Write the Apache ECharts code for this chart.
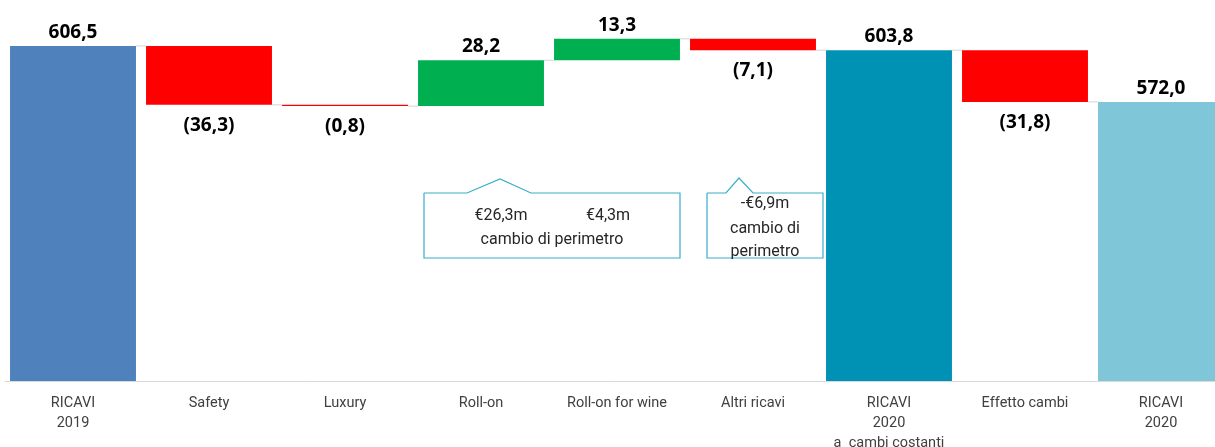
<!DOCTYPE html>
<html><head><meta charset="utf-8">
<script src="https://cdn.jsdelivr.net/npm/echarts@6/dist/echarts.min.js"></script>
<style>html,body{margin:0;padding:0;background:#fff}#c{width:1215px;height:447px}</style>
</head><body><div id="c"></div>
<script>
const categories = ['RICAVI\n2019','Safety','Luxury','Roll-on','Roll-on for wine','Altri ricavi','RICAVI\n2020\na  cambi costanti','Effetto cambi','RICAVI\n2020'];
const values = [606.5, -36.3, -0.8, 28.2, 13.3, -7.1, 603.8, -31.8, 572.0];
const isTotal = [true, false, false, false, false, false, true, false, true];
const colors = ['#4F81BD','#FF0000','#FF0000','#00B050','#00B050','#FF0000','#0092B5','#FF0000','#7FC6D8'];

const base = [], height = [], level = [];
let run = 0;
values.forEach((v, i) => {
  if (isTotal[i]) { base.push(0); height.push(v); run = v; }
  else { const end = run + v; base.push(Math.min(run, end)); height.push(Math.abs(v)); run = end; }
  level.push(run);
});
const fmt = v => { const s = Math.abs(v).toFixed(1).replace('.', ','); return v < 0 ? '(' + s + ')' : s; };

const chart = echarts.init(document.getElementById('c'));
chart.setOption({
  animation: false,
  grid: { left: 5, width: 1224, top: 24, bottom: 66, containLabel: false, outerBoundsMode: 'none' },
  xAxis: {
    type: 'category', data: categories,
    axisTick: { show: false },
    axisLine: { lineStyle: { color: '#d9d9d9', width: 1 } },
    axisLabel: { color: '#404040', fontFamily: 'Roboto', fontSize: 14.5, lineHeight: 20, margin: 12, interval: 0 }
  },
  yAxis: { type: 'value', min: 400, max: 620, show: false, splitLine: { show: false } },
  series: [
    { type: 'bar', stack: 'w', data: base, itemStyle: { color: 'transparent' }, barWidth: '92.6%', silent: true },
    { type: 'bar', stack: 'w', barWidth: '92.6%',
      data: height.map((h, i) => ({
        value: h,
        itemStyle: { color: colors[i] },
        label: {
          show: true,
          position: values[i] < 0 ? 'bottom' : 'top',
          distance: values[i] < 0 ? 11 : 4,
          formatter: () => fmt(values[i]),
          fontFamily: 'Open Sans', fontWeight: 'bold', fontSize: 19, color: '#000'
        }
      }))
    },
    { type: 'custom', silent: true, z: 1,
      data: level.slice(0, -1).map((l, i) => [i, l]),
      renderItem: (params, api) => {
        const i = api.value(0), l = api.value(1);
        const w = api.size([1, 0])[0] * 0.926 / 2;
        const p1 = api.coord([i, l]), p2 = api.coord([i + 1, l]);
        return { type: 'line', shape: { x1: p1[0] + w, y1: p1[1], x2: p2[0] - w, y2: p2[1] },
          style: { stroke: '#dcdcdc', lineWidth: 1.2 } };
      }
    }
  ],
  graphic: [
    { type: 'polyline', shape: { points: [[424,193],[467,193],[500,179],[531,193],[680,193],[680,258],[424,258],[424,193]] },
      style: { stroke: '#3AAECC', fill: '#fff', lineWidth: 1.2 } },
    { type: 'text', x: 501, y: 216, style: { text: '€26,3m', font: '16px Roboto', fill: '#262626', align: 'center', verticalAlign: 'middle' } },
    { type: 'text', x: 608, y: 216, style: { text: '€4,3m', font: '16px Roboto', fill: '#262626', align: 'center', verticalAlign: 'middle' } },
    { type: 'text', x: 552, y: 240, style: { text: 'cambio di perimetro', font: '16px Roboto', fill: '#262626', align: 'center', verticalAlign: 'middle' } },
    { type: 'polyline', shape: { points: [[707,193],[726,193],[739,178],[753,193],[823,193],[823,258],[707,258],[707,193]] },
      style: { stroke: '#3AAECC', fill: '#fff', lineWidth: 1.2 } },
    { type: 'text', x: 765, y: 204, style: { text: '-€6,9m', font: '16px Roboto', fill: '#262626', align: 'center', verticalAlign: 'middle' } },
    { type: 'text', x: 765, y: 229, style: { text: 'cambio di', font: '16px Roboto', fill: '#262626', align: 'center', verticalAlign: 'middle' } },
    { type: 'text', x: 765, y: 252, style: { text: 'perimetro', font: '16px Roboto', fill: '#262626', align: 'center', verticalAlign: 'middle' } }
  ]
});
</script></body></html>
